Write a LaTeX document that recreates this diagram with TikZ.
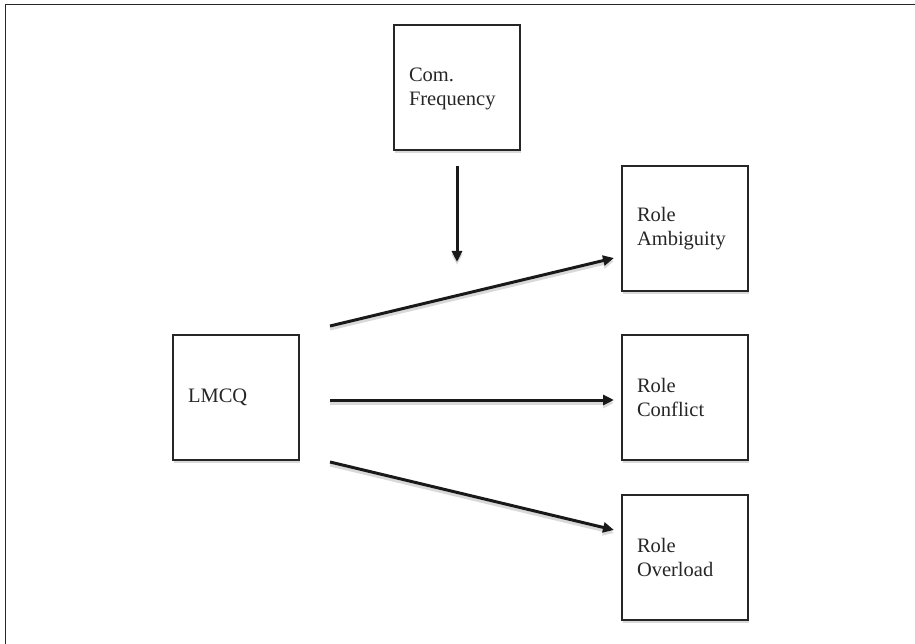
\documentclass[tikz,border=0pt]{standalone}
\usepackage{fontspec}
\setmainfont{Liberation Serif}
\usetikzlibrary{arrows.meta,shadows}
\begin{document}
\begin{tikzpicture}[x=1pt,y=-1pt,
  box/.style={draw=black!85,line width=2.6pt,fill=white,
    minimum height=125pt,text width=96pt,inner xsep=15pt,align=left,
    font=\fontsize{20.5}{24}\selectfont,text=black!85,
    drop shadow={shadow xshift=1pt,shadow yshift=-3pt,fill=black!25,opacity=0.6}},
  conn/.style={line width=3pt,draw=black!90,-{Triangle[length=11pt,width=10pt]},
    preaction={draw=black!15,line width=3pt,transform canvas={yshift=-3pt}}}]
\useasboundingbox (0,0) rectangle (915,644);
\draw[line width=1.6pt,black!85] (5.5,650) -- (5.5,4.5) -- (920,4.5);
\node[box] (freq) at (457,87.5) {\\[-8pt]Com.\\Frequency};
\node[box] (amb) at (685,228.5) {Role\\Ambiguity};
\node[box] (lmcq) at (236,397.5) {LMCQ\\[14pt]};
\node[box] (conf) at (685,397.5) {Role\\Conflict};
\node[box] (over) at (685,557.5) {Role\\Overload};
\coordinate (d1) at (457,166);
\coordinate (d2) at (457,262);
\coordinate (a1) at (330,326);
\coordinate (a2) at (614,258);
\coordinate (c1) at (330,400);
\coordinate (c2) at (614,400);
\coordinate (o1) at (330,462);
\coordinate (o2) at (614,530);
\draw[conn] (d1) -- (d2);
\draw[conn] (a1) -- (a2);
\draw[conn] (c1) -- (c2);
\draw[conn] (o1) -- (o2);
\end{tikzpicture}
\end{document}
